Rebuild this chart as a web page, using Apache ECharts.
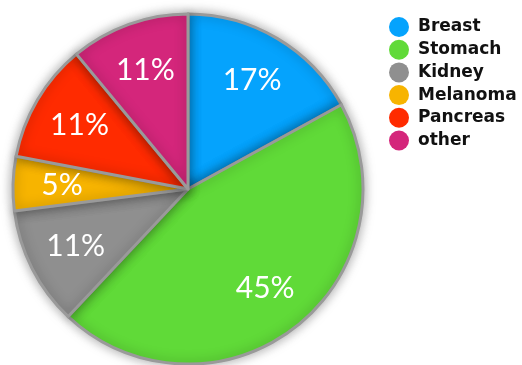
<!DOCTYPE html>
<html>
<head>
<meta charset="utf-8">
<script src="https://cdn.jsdelivr.net/npm/echarts@6/dist/echarts.min.js"></script>
<style>
  html, body { margin: 0; padding: 0; background: #fff; }
  #charts { width: 522px; height: 365px; }
</style>
</head>
<body>
<div id="charts"></div>
<script>
const categories = ["Breast", "Stomach", "Kidney", "Melanoma", "Pancreas", "other"];
const values = [17, 45, 11, 5, 11, 11];
const colors = ["#05a3fd", "#60da38", "#8f8f8f", "#f7b400", "#ff2b00", "#d4267b"];

let chartDom = document.getElementById("charts");
let myChart = echarts.init(chartDom);

let pieData = categories.map(function (name, i) {
  return { name: name, value: values[i], itemStyle: { color: colors[i] } };
});

let option = {
  animation: false,
  legend: {
    orient: "vertical",
    left: 384,
    top: 12,
    icon: "circle",
    itemWidth: 20,
    itemHeight: 20,
    itemGap: 2.7,
    itemStyle: { borderWidth: 0, shadowBlur: 0 },
    textStyle: {
      color: "#111",
      fontSize: 17,
      fontWeight: "bold",
      fontFamily: "DejaVu Sans",
      padding: [0, 0, 0, 4],
    },
    data: categories,
  },
  series: [
    {
      name: "cancer",
      type: "pie",
      center: [188, 189],
      radius: [0, 175],
      startAngle: 90,
      clockwise: true,
      label: { show: false },
      labelLine: { show: false },
      itemStyle: {
        borderColor: "#9a9a9a",
        borderWidth: 3,
        shadowBlur: 12,
        shadowColor: "rgba(0,0,0,0.35)",
      },
      data: pieData,
    },
    {
      // transparent ring only to place the % labels further out
      name: "labels",
      type: "pie",
      silent: true,
      legendHoverLink: false,
      center: [188, 189],
      radius: [71, 175],
      startAngle: 90,
      clockwise: true,
      itemStyle: { color: "transparent" },
      label: {
        show: true,
        position: "inside",
        formatter: "{c}%",
        color: "#fff",
        fontSize: 30,
        fontFamily: "Lato",
      },
      labelLine: { show: false },
      data: categories.map(function (name, i) {
        return { name: name, value: values[i] };
      }),
    },
  ],
};

option && myChart.setOption(option);
</script>
</body>
</html>
